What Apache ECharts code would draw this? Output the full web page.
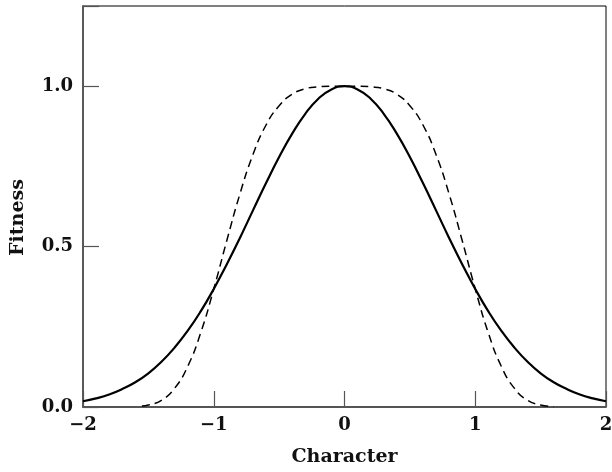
<!DOCTYPE html>
<html>
<head>
<meta charset="utf-8">
<script src="https://cdn.jsdelivr.net/npm/echarts@6/dist/echarts.min.js"></script>
<style>
  html, body { margin: 0; padding: 0; background: #fff; }
  #chart { width: 612px; height: 472px; }
</style>
</head>
<body>
<div id="chart"></div>
<script>
// character values (x) and fitness
const xSolid = [-2.0, -1.9, -1.8, -1.7, -1.6, -1.5, -1.4, -1.3, -1.2, -1.1, -1.0,
                -0.9, -0.8, -0.7, -0.6, -0.5, -0.4, -0.3, -0.2, -0.1, 0.0,
                0.1, 0.2, 0.3, 0.4, 0.5, 0.6, 0.7, 0.8, 0.9, 1.0,
                1.1, 1.2, 1.3, 1.4, 1.5, 1.6, 1.7, 1.8, 1.9, 2.0];
const ySolid = [0.018, 0.027, 0.039, 0.056, 0.077, 0.105, 0.141, 0.185, 0.237, 0.298, 0.368,
                0.445, 0.527, 0.613, 0.698, 0.779, 0.852, 0.914, 0.961, 0.990, 1.0,
                0.990, 0.961, 0.914, 0.852, 0.779, 0.698, 0.613, 0.527, 0.445, 0.368,
                0.298, 0.237, 0.185, 0.141, 0.105, 0.077, 0.056, 0.039, 0.027, 0.018];

const xDashed = [-1.55, -1.5, -1.4, -1.3, -1.2, -1.1, -1.0, -0.9, -0.8, -0.7, -0.6, -0.5,
                 -0.4, -0.3, -0.2, -0.1, 0.0, 0.1, 0.2, 0.3, 0.4, 0.5, 0.6, 0.7,
                 0.8, 0.9, 1.0, 1.1, 1.2, 1.3, 1.4, 1.5, 1.6];
const yDashed = [0.003, 0.006, 0.021, 0.058, 0.126, 0.231, 0.368, 0.519, 0.664, 0.787, 0.879, 0.939,
                 0.975, 0.992, 0.998, 1.0, 1.0, 1.0, 0.998, 0.992, 0.975, 0.939, 0.879, 0.787,
                 0.664, 0.519, 0.368, 0.231, 0.126, 0.058, 0.021, 0.006, 0.001];

const xTicks = [-2, -1, 0, 1, 2];
const yTicks = [0, 0.5, 1.0];

function pairs(xs, ys) {
    return xs.map(function (x, i) { return [x, ys[i]]; });
}

const font = 'DejaVu Serif';
const chart = echarts.init(document.getElementById('chart'));
const option = {
    animation: false,
    backgroundColor: '#fff',
    grid: {
        left: 83,
        right: 6,
        top: 6,
        bottom: 65,
        containLabel: false,
        outerBoundsMode: 'none',
        show: true,
        borderColor: '#000',
        borderWidth: 1
    },
    xAxis: {
        type: 'value',
        min: -2,
        max: 2,
        interval: 1,
        name: 'Character',
        nameLocation: 'middle',
        nameGap: 41,
        nameTextStyle: { fontFamily: font, fontWeight: 'bold', fontSize: 19, color: '#111' },
        axisLine: { onZero: false, lineStyle: { color: '#555', width: 1.8 } },
        axisTick: { inside: true, length: 16, lineStyle: { color: '#555', width: 1.2 } },
        splitLine: { show: false },
        axisLabel: {
            fontFamily: font, fontWeight: 'bold', fontSize: 18, color: '#111', margin: 9,
            formatter: function (v) {
                if (xTicks.indexOf(v) < 0) return '';
                return v < 0 ? '\u2212' + Math.abs(v) : String(v);
            }
        }
    },
    yAxis: {
        type: 'value',
        min: 0,
        max: 1.25,
        interval: 0.5,
        name: 'Fitness',
        nameLocation: 'middle',
        nameGap: 55,
        nameTextStyle: { fontFamily: font, fontWeight: 'bold', fontSize: 19, color: '#111', padding: [0, 22, 0, 0] },
        axisLine: { onZero: false, lineStyle: { color: '#555', width: 1.8 } },
        axisTick: { inside: true, length: 16, lineStyle: { color: '#555', width: 1.2 } },
        splitLine: { show: false },
        axisLabel: {
            fontFamily: font, fontWeight: 'bold', fontSize: 18, color: '#111', margin: 10,
            formatter: function (v) {
                return yTicks.indexOf(v) < 0 ? '' : v.toFixed(1);
            }
        }
    },
    series: [
        {
            type: 'line',
            data: pairs(xSolid, ySolid),
            smooth: true,
            showSymbol: false,
            lineStyle: { color: '#000', width: 2.2 }
        },
        {
            type: 'line',
            data: pairs(xDashed, yDashed),
            smooth: true,
            showSymbol: false,
            lineStyle: { color: '#000', width: 1.5, type: [8, 5] }
        }
    ]
};
chart.setOption(option);
</script>
</body>
</html>
